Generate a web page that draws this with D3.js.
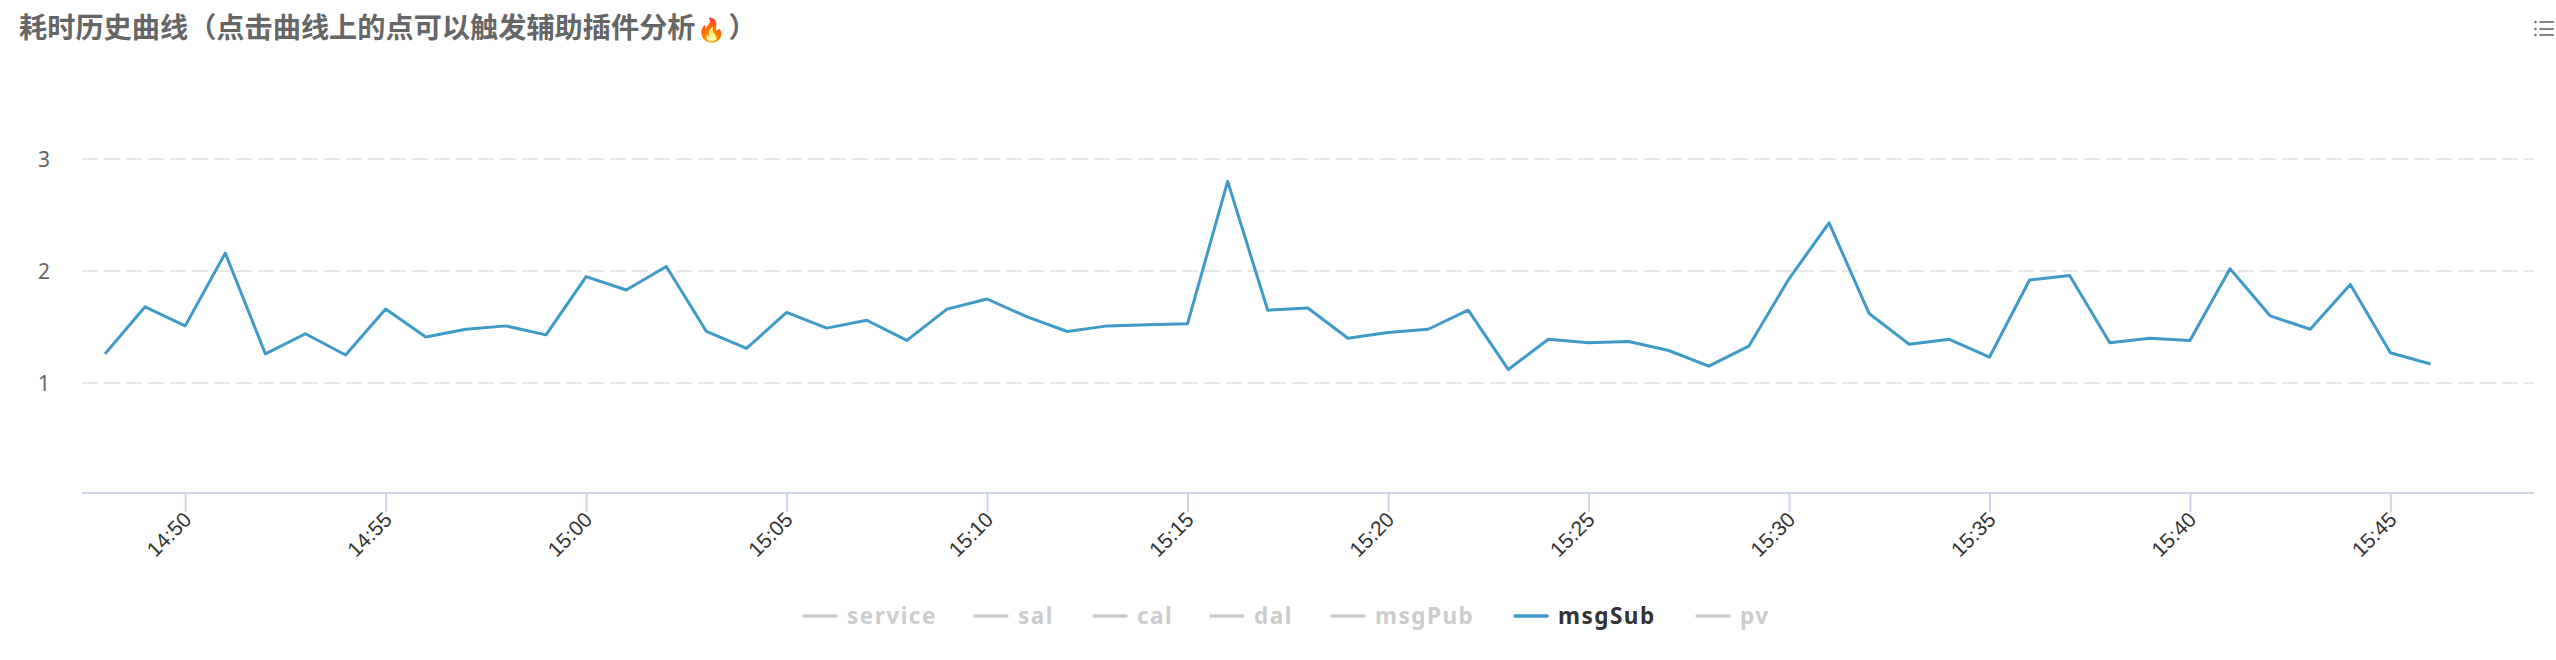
<!DOCTYPE html>
<html lang="zh">
<head>
<meta charset="utf-8">
<style>
html,body{margin:0;padding:0;background:#fff;}
svg{display:block;}
</style>
<script src="https://cdn.jsdelivr.net/npm/d3@7/dist/d3.min.js"></script>
</head>
<body>
<svg id="chart" width="2556" height="660"></svg>
<script>
const titleText = "耗时历史曲线（点击曲线上的点可以触发辅助插件分析";
const titleEmoji = "🔥";
const titleEnd = "）";
const startTime = "14:48";
const msgSub = [1.26,1.68,1.51,2.16,1.26,1.44,1.25,1.66,1.41,1.48,1.51,1.43,1.95,1.83,
  2.04,1.46,1.31,1.63,1.49,1.56,1.38,1.66,1.75,1.59,1.46,1.51,1.52,1.53,2.80,1.65,
  1.67,1.40,1.45,1.48,1.65,1.12,1.39,1.36,1.37,1.29,1.15,1.33,1.93,2.43,1.62,1.345,
  1.39,1.23,1.92,1.96,1.36,1.40,1.38,2.02,1.60,1.48,1.88,1.27,1.17];
const yTicks = [1,2,3];
const xTickMinutes = ["14:50","14:55","15:00","15:05","15:10","15:15","15:20","15:25","15:30","15:35","15:40","15:45"];
const legendNames = ["service","sal","cal","dal","msgPub","msgSub","pv"];
const legendStarts = [804,975,1094,1211,1332,1515,1697];
const activeSeries = "msgSub";

const parse = d3.timeParse("%H:%M");
const t0 = parse(startTime);
const times = msgSub.map((_, i) => d3.timeMinute.offset(t0, i));

const svg = d3.select("#chart");
const plotLeft = 82, plotRight = 2534, axisY = 493;
const x = d3.scaleTime().domain([t0, times[times.length-1]]).range([105, 2430.5]);
const y = d3.scaleLinear().domain([1,3]).range([383,159]);

const cjk = "'Noto Sans CJK SC','Noto Sans',sans-serif";

const title = svg.append("text").attr("x",19).attr("y",38)
  .attr("font-family",cjk).attr("font-size",28.2).attr("font-weight",700)
  .attr("fill","#666");
title.append("tspan").text(titleText);
title.append("tspan").attr("font-size",23).attr("dx",1).text(titleEmoji);
title.append("tspan").attr("dx",3).text(titleEnd);

// menu icon
const menu = svg.append("g").attr("fill","#666").attr("stroke","#666");
[22,29,35].forEach(v=>{
  menu.append("circle").attr("cx",2535.5).attr("cy",v).attr("r",1.2).attr("stroke","none");
  menu.append("line").attr("x1",2539.5).attr("x2",2554).attr("y1",v).attr("y2",v).attr("stroke-width",1.6);
});

// y axis & grid
const yAxis = d3.axisLeft(y).tickValues(yTicks).tickSize(0).tickPadding(0).tickFormat(d3.format("d"));
const gy = svg.append("g").attr("transform",`translate(50,0)`).call(yAxis);
gy.select(".domain").remove();
gy.selectAll("text").attr("font-family","'Noto Sans',sans-serif").attr("font-size",21).attr("fill","#666")
  .attr("dy","0.36em");
svg.append("g").selectAll("line").data(yTicks).join("line")
  .attr("x1",plotLeft).attr("x2",plotRight)
  .attr("y1",d=>y(d)).attr("y2",d=>y(d))
  .attr("stroke","#e6e6e6").attr("stroke-width",2).attr("stroke-dasharray","16,6");

// x axis
const xAxis = d3.axisBottom(x)
  .tickValues(xTickMinutes.map(parse))
  .tickSize(19).tickPadding(5).tickFormat(d3.timeFormat("%H:%M"));
const gx = svg.append("g").attr("transform",`translate(0,${axisY})`).call(xAxis);
gx.select(".domain").remove();
gx.append("line").attr("x1",plotLeft).attr("x2",plotRight).attr("y1",0).attr("y2",0)
  .attr("stroke","#ccd6eb").attr("stroke-width",2);
gx.selectAll(".tick line").attr("stroke","#ccd6eb").attr("stroke-width",2);
gx.selectAll(".tick text")
  .attr("font-family","'Liberation Sans',Arial,sans-serif").attr("font-size",21).attr("fill","#333")
  .attr("text-anchor","end")
  .attr("dy",null)
  .attr("transform",function(){ return "translate(7,28) rotate(-45)"; })
  .attr("x",0).attr("y",0);

// line
const line = d3.line().x((d,i)=>x(times[i])).y(d=>y(d));
svg.append("path").datum(msgSub)
  .attr("d",line).attr("fill","none").attr("stroke","#3f9ac8")
  .attr("stroke-width",3).attr("stroke-linejoin","round").attr("stroke-linecap","butt");

// legend
const lg = svg.append("g").selectAll("g").data(legendNames).join("g")
  .attr("transform",(d,i)=>`translate(${legendStarts[i]},616)`);
lg.append("line").attr("x1",0).attr("x2",32).attr("y1",0).attr("y2",0)
  .attr("stroke",d=>d===activeSeries?"#3f9ac8":"#cccccc").attr("stroke-width",3.5).attr("stroke-linecap","round");
lg.append("text").attr("x",43).attr("y",0).attr("dy","0.35em")
  .attr("font-family","'Noto Sans',sans-serif").attr("font-weight",700).attr("font-size",22.5)
  .attr("letter-spacing",1.5)
  .attr("fill",d=>d===activeSeries?"#333333":"#cccccc").text(d=>d);
</script>
</body>
</html>
